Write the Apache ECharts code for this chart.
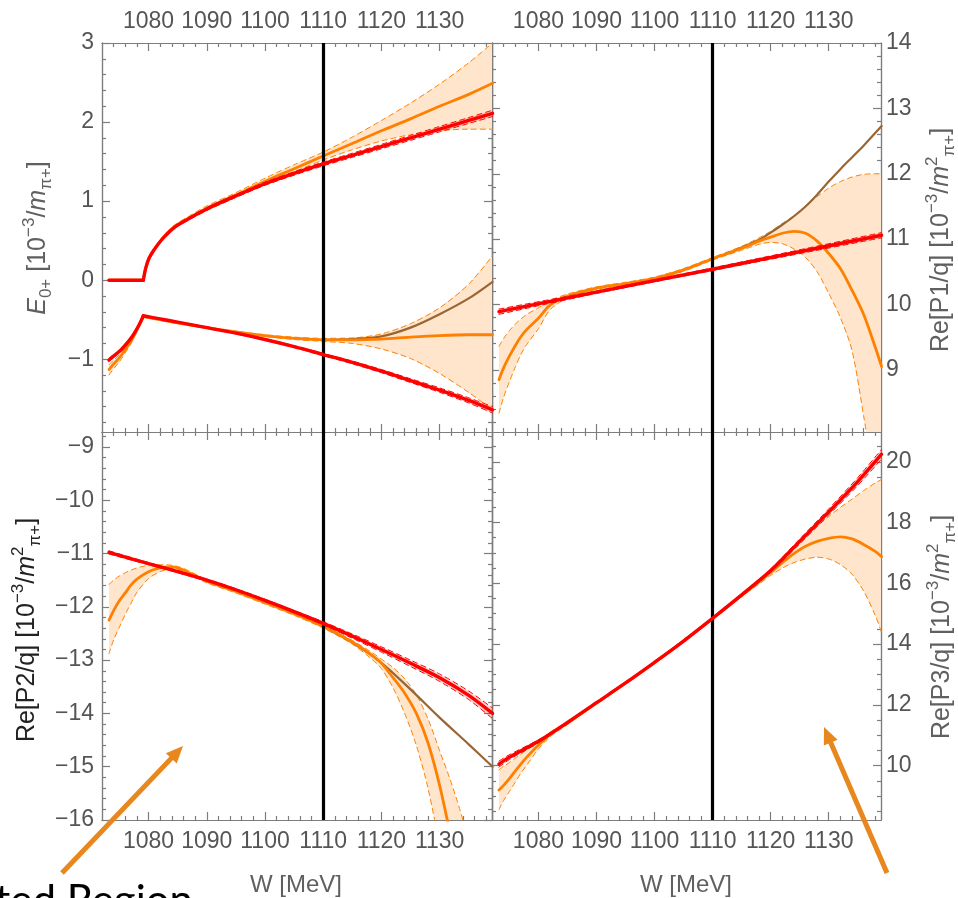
<!DOCTYPE html>
<html>
<head>
<meta charset="utf-8">
<script src="https://cdn.jsdelivr.net/npm/echarts@6/dist/echarts.min.js"></script>
<style>
  html, body { margin: 0; padding: 0; background: #fff; }
  #chart { width: 958px; height: 898px; }
</style>
</head>
<body>
<div id="chart"></div>
<script>
// ---------- axis ticks ----------
const X_RANGE = [1072, 1139];
const X_MAJOR = [1080, 1090, 1100, 1110, 1120, 1130];
const P1_Y_RANGE = [-1.92, 3];
const P1_Y_MAJOR = [-1, 0, 1, 2, 3];
const P2_Y_RANGE = [8.05, 14];
const P2_Y_MAJOR = [9, 10, 11, 12, 13, 14];
const P3_Y_RANGE = [-16, -8.72];
const P3_Y_MAJOR = [-16, -15, -14, -13, -12, -11, -10, -9];
const P4_Y_RANGE = [8.21, 20.98];
const P4_Y_MAJOR = [10, 12, 14, 16, 18, 20];
const MARK_W = 1110;

// ---------- panel 1: E0+ ----------
// below the pi+ n threshold
const P1_W_FLAT = [1073.2, 1079.1];
const P1_FLAT = [0, 0];
const P1_W_LO_PRE = [1073.2, 1074, 1075, 1076, 1077, 1077.8, 1078.4, 1078.8, 1079.1];
const P1_RED_LO_PRE = [-1.01, -0.96, -0.90, -0.82, -0.73, -0.64, -0.56, -0.50, -0.45];
const P1_RED_LO_PRE_ERR = [0.02, 0.02, 0.015, 0.015, 0.01, 0.01, 0.008, 0.005, 0.005];
const P1_ORG_LO_PRE = [-1.13, -1.06, -0.98, -0.88, -0.77, -0.66, -0.57, -0.51, -0.46];
const P1_ORG_LO_PRE_HI = [-1.07, -1.01, -0.94, -0.85, -0.75, -0.65, -0.565, -0.505, -0.455];
const P1_ORG_LO_PRE_LO = [-1.20, -1.12, -1.03, -0.92, -0.80, -0.68, -0.58, -0.515, -0.465];
// above threshold, upper branch
const P1_W_UP = [1079.1, 1079.5, 1080.1, 1081, 1082, 1083, 1084.5, 1086.5, 1090, 1094.5, 1100, 1105, 1110, 1115, 1120, 1125, 1130, 1135, 1139.1];
const P1_RED_UP = [0, 0.15, 0.28, 0.39, 0.49, 0.57, 0.67, 0.76, 0.90, 1.05, 1.22, 1.35, 1.47, 1.58, 1.69, 1.80, 1.91, 2.02, 2.11];
const P1_RED_UP_ERR = [0, 0.004, 0.006, 0.008, 0.009, 0.01, 0.012, 0.014, 0.016, 0.018, 0.02, 0.022, 0.024, 0.026, 0.028, 0.031, 0.034, 0.037, 0.04];
const P1_ORG_UP = [0, 0.15, 0.28, 0.39, 0.49, 0.58, 0.68, 0.77, 0.91, 1.06, 1.25, 1.41, 1.57, 1.73, 1.89, 2.04, 2.20, 2.35, 2.49];
const P1_ORG_UP_HI = [0, 0.16, 0.30, 0.41, 0.51, 0.60, 0.70, 0.79, 0.94, 1.09, 1.29, 1.46, 1.62, 1.81, 2.02, 2.24, 2.48, 2.75, 3.0];
const P1_ORG_UP_LO = [0, 0.14, 0.27, 0.37, 0.47, 0.56, 0.66, 0.75, 0.88, 1.03, 1.21, 1.37, 1.52, 1.65, 1.76, 1.84, 1.89, 1.91, 1.91];
// above threshold, lower branch
const P1_W_LO = [1079.1, 1082, 1085, 1090, 1095, 1100, 1105, 1110, 1115, 1120, 1125, 1130, 1135, 1139.1];
const P1_RED_LO = [-0.45, -0.49, -0.53, -0.60, -0.67, -0.75, -0.84, -0.94, -1.04, -1.15, -1.27, -1.39, -1.52, -1.64];
const P1_RED_LO_ERR = [0.005, 0.005, 0.006, 0.007, 0.008, 0.01, 0.012, 0.014, 0.017, 0.02, 0.024, 0.028, 0.033, 0.04];
const P1_ORG_LO = [-0.46, -0.50, -0.54, -0.60, -0.655, -0.70, -0.735, -0.755, -0.755, -0.745, -0.72, -0.70, -0.69, -0.69];
const P1_ORG_LO_HI = [-0.455, -0.49, -0.53, -0.59, -0.645, -0.69, -0.72, -0.735, -0.73, -0.68, -0.55, -0.35, -0.05, 0.31];
const P1_ORG_LO_LO = [-0.465, -0.51, -0.55, -0.61, -0.665, -0.71, -0.75, -0.775, -0.80, -0.87, -0.99, -1.18, -1.42, -1.64];
const P1_W_BRN = [1110, 1115, 1120, 1125, 1130, 1135, 1139.1];
const P1_BRN = [-0.755, -0.745, -0.71, -0.60, -0.43, -0.23, -0.02];

// ---------- panel 2: Re[P1/q] ----------
const P2_W_RED = [1073.2, 1090, 1110, 1139.1];
const P2_RED = [9.89, 10.19, 10.54, 11.06];
const P2_RED_ERR = [0.04, 0.02, 0.02, 0.04];
const P2_W = [1073.2, 1074, 1075, 1076, 1077, 1078, 1080, 1082, 1085, 1090, 1095, 1100, 1105, 1110, 1115, 1118, 1120, 1122, 1124, 1126, 1128, 1130, 1132, 1134, 1136, 1138, 1139.1];
const P2_ORG = [8.85, 9.03, 9.21, 9.37, 9.51, 9.62, 9.79, 9.99, 10.13, 10.25, 10.32, 10.40, 10.53, 10.70, 10.86, 10.97, 11.03, 11.09, 11.12, 11.09, 10.97, 10.78, 10.55, 10.22, 9.85, 9.35, 9.05];
const P2_ORG_HI = [9.36, 9.48, 9.60, 9.70, 9.78, 9.85, 9.95, 10.06, 10.16, 10.27, 10.34, 10.42, 10.55, 10.72, 10.89, 11.02, 11.12, 11.24, 11.36, 11.50, 11.65, 11.78, 11.88, 11.95, 11.99, 12.0, 12.0];
const P2_ORG_LO = [8.34, 8.58, 8.82, 9.04, 9.24, 9.39, 9.63, 9.92, 10.10, 10.23, 10.30, 10.38, 10.51, 10.68, 10.83, 10.92, 10.95, 10.93, 10.85, 10.72, 10.50, 10.17, 9.80, 9.30, 8.30, 7.20, 6.50];
const P2_W_BRN = [1112, 1115, 1118, 1120, 1122, 1124, 1126, 1128, 1130, 1132, 1134, 1136, 1139.1];
const P2_BRN = [10.76, 10.87, 10.99, 11.10, 11.22, 11.35, 11.50, 11.68, 11.88, 12.07, 12.25, 12.43, 12.73];

// ---------- panel 3: Re[P2/q] ----------
const P3_W_RED = [1073.2, 1080, 1085, 1090, 1095, 1100, 1105, 1110, 1115, 1120, 1125, 1130, 1135, 1139.1];
const P3_RED = [-10.98, -11.19, -11.34, -11.50, -11.68, -11.88, -12.09, -12.31, -12.55, -12.80, -13.06, -13.33, -13.66, -14.0];
const P3_RED_ERR = [0.03, 0.02, 0.02, 0.02, 0.02, 0.02, 0.02, 0.03, 0.04, 0.05, 0.06, 0.07, 0.08, 0.1];
const P3_W = [1073.2, 1074, 1075, 1076, 1077, 1078, 1080, 1082, 1084, 1086, 1090, 1095, 1100, 1105, 1110, 1115, 1118, 1120, 1122, 1124, 1126, 1128, 1130, 1132, 1134, 1136];
const P3_ORG = [-12.25, -12.07, -11.88, -11.74, -11.59, -11.48, -11.34, -11.27, -11.25, -11.31, -11.52, -11.71, -11.92, -12.13, -12.37, -12.66, -12.88, -13.06, -13.33, -13.62, -14.0, -14.55, -15.35, -16.35, -17.4, -18.5];
const P3_ORG_HI = [-11.58, -11.50, -11.42, -11.36, -11.31, -11.27, -11.22, -11.21, -11.22, -11.28, -11.49, -11.69, -11.90, -12.11, -12.35, -12.63, -12.83, -12.98, -13.14, -13.35, -13.65, -14.1, -14.7, -15.3, -16.0, -16.9];
const P3_ORG_LO = [-12.88, -12.62, -12.38, -12.14, -11.93, -11.73, -11.47, -11.34, -11.29, -11.34, -11.55, -11.74, -11.95, -12.16, -12.40, -12.70, -12.95, -13.16, -13.52, -14.0, -14.6, -15.4, -16.5, -17.7, -19.0, -20.5];
const P3_W_BRN = [1110, 1115, 1120, 1125, 1130, 1135, 1139.1];
const P3_BRN = [-12.37, -12.67, -13.05, -13.55, -14.08, -14.58, -15.0];

// ---------- panel 4: Re[P3/q] ----------
const P4_W_RED = [1073.2, 1075, 1080, 1085, 1090, 1095, 1100, 1105, 1110, 1115, 1120, 1125, 1130, 1135, 1139.1];
const P4_RED = [10.05, 10.28, 10.80, 11.42, 12.07, 12.72, 13.40, 14.10, 14.85, 15.62, 16.42, 17.38, 18.35, 19.35, 20.25];
const P4_RED_ERR = [0.1, 0.08, 0.05, 0.03, 0.02, 0.02, 0.02, 0.02, 0.02, 0.03, 0.05, 0.08, 0.1, 0.13, 0.16];
const P4_W = [1073.2, 1074, 1075, 1076, 1077, 1078, 1080, 1082, 1085, 1090, 1100, 1110, 1115, 1118, 1120, 1122, 1124, 1126, 1128, 1130, 1132, 1134, 1136, 1138, 1139.1];
const P4_ORG = [9.20, 9.35, 9.57, 9.82, 10.06, 10.28, 10.68, 11.02, 11.40, 12.06, 13.39, 14.84, 15.60, 16.05, 16.36, 16.68, 16.98, 17.22, 17.38, 17.48, 17.53, 17.46, 17.28, 17.05, 16.88];
const P4_ORG_HI = [9.86, 9.98, 10.10, 10.24, 10.38, 10.52, 10.80, 11.10, 11.45, 12.10, 13.43, 14.88, 15.64, 16.12, 16.45, 16.82, 17.18, 17.55, 17.88, 18.20, 18.50, 18.77, 19.05, 19.30, 19.42];
const P4_ORG_LO = [8.55, 8.85, 9.15, 9.45, 9.76, 10.02, 10.55, 10.95, 11.35, 12.03, 13.37, 14.82, 15.56, 15.98, 16.26, 16.50, 16.68, 16.80, 16.86, 16.80, 16.62, 16.30, 15.75, 14.95, 14.38];

// ---------- styling ----------
const FONT = '"Liberation Sans", Arial, sans-serif';
const FRAME = '#7d7d7d';
const TICK_TEXT = '#555555';
const TITLE_TEXT = '#606060';
const RED = '#ff0000';
const RED_FILL = 'rgba(255,0,0,0.18)';
const ORANGE = '#ff8000';
const ORANGE_FILL = '#ffe5cc';
const BROWN = '#996633';
const ARROW = '#e8871e';

const GRIDS = [
  { left: 102, top: 43, width: 390, height: 389 },
  { left: 492, top: 43, width: 389, height: 389 },
  { left: 102, top: 432, width: 390, height: 388 },
  { left: 492, top: 432, width: 389, height: 388 }
];

function fmtNum(v) { return v < 0 ? '\u2212' + (-v) : String(v); }

function minorList(range, step, majors) {
  const out = [];
  const n0 = Math.ceil(range[0] / step - 1e-9), n1 = Math.floor(range[1] / step + 1e-9);
  for (let n = n0; n <= n1; n++) {
    const v = +(n * step).toFixed(4);
    if (v <= range[0] + 1e-9 || v >= range[1] - 1e-9) continue;
    if (majors.some(m => Math.abs(m - v) < 1e-6)) continue;
    out.push(v);
  }
  return out;
}

// framing axes for one dimension: labelled major, minor, mirrored major, mirrored minor
function axisSet(dim, g, range, labelSide, otherSide, majors, minors) {
  const common = {
    type: 'value', gridIndex: g, min: range[0], max: range[1],
    splitLine: { show: false }, silent: true,
    axisLine: { show: true, onZero: false, lineStyle: { color: FRAME, width: 1.2 } }
  };
  const labelMargin = dim === 'x' ? 10 : (labelSide === 'left' ? 8 : 5);
  const mk = (pos, vals, len, withLabel) => Object.assign({}, common, {
    position: pos,
    axisTick: { show: true, inside: true, length: len, customValues: vals, lineStyle: { color: FRAME, width: 1.2 } },
    axisLabel: withLabel ? {
      show: true, customValues: majors, formatter: fmtNum, color: TICK_TEXT,
      fontSize: 23, fontFamily: FONT, margin: labelMargin
    } : { show: false }
  });
  return [mk(labelSide, majors, 8, true), mk(labelSide, minors, 4, false),
          mk(otherSide, majors, 8, false), mk(otherSide, minors, 4, false)];
}

const PANELS = [
  { yRange: P1_Y_RANGE, yMajor: P1_Y_MAJOR, yStep: 0.2, xSide: 'top', ySide: 'left' },
  { yRange: P2_Y_RANGE, yMajor: P2_Y_MAJOR, yStep: 0.2, xSide: 'top', ySide: 'right' },
  { yRange: P3_Y_RANGE, yMajor: P3_Y_MAJOR, yStep: 0.2, xSide: 'bottom', ySide: 'left' },
  { yRange: P4_Y_RANGE, yMajor: P4_Y_MAJOR, yStep: 0.5, xSide: 'bottom', ySide: 'right' }
];

const xAxes = [], yAxes = [];
PANELS.forEach((p, g) => {
  const xMinor = minorList(X_RANGE, 2, X_MAJOR);
  const yMinor = minorList(p.yRange, p.yStep, p.yMajor);
  xAxes.push(...axisSet('x', g, X_RANGE, p.xSide, p.xSide === 'top' ? 'bottom' : 'top', X_MAJOR, xMinor));
  yAxes.push(...axisSet('y', g, p.yRange, p.ySide, p.ySide === 'left' ? 'right' : 'left', p.yMajor, yMinor));
});

// ---------- series helpers ----------
function pts(ws, vs) { return ws.map((w, i) => [w, vs[i]]); }
function shift(vs, es, s) { return vs.map((v, i) => +(v + s * es[i]).toFixed(4)); }

function curve(g, ws, vs, color, width, z, dashed) {
  return {
    type: 'line', xAxisIndex: 4 * g, yAxisIndex: 4 * g, data: pts(ws, vs),
    showSymbol: false, symbol: 'none', smooth: 0.3,
    clip: true, silent: true, z: z, animation: false,
    lineStyle: { color: color, width: width, type: dashed ? [5, 4] : 'solid', cap: 'round', join: 'round' }
  };
}

function band(g, ws, lo, hi, fill, z) {
  return {
    type: 'custom', xAxisIndex: 4 * g, yAxisIndex: 4 * g, clip: true, silent: true, z: z,
    animation: false, data: [[ws[0], lo[0]]],
    renderItem: function (params, api) {
      const p = [];
      for (let i = 0; i < ws.length; i++) p.push(api.coord([ws[i], hi[i]]));
      for (let i = ws.length - 1; i >= 0; i--) p.push(api.coord([ws[i], lo[i]]));
      return { type: 'polygon', shape: { points: p }, style: { fill: fill } };
    }
  };
}

// fit curve with shaded uncertainty band and dashed band edges
function orangeFamily(g, ws, mid, lo, hi) {
  return [
    band(g, ws, lo, hi, ORANGE_FILL, 1),
    curve(g, ws, lo, ORANGE, 1, 2, true),
    curve(g, ws, hi, ORANGE, 1, 2, true),
    curve(g, ws, mid, ORANGE, 2.8, 4, false)
  ];
}
function redFamily(g, ws, mid, err) {
  const lo = shift(mid, err, -1), hi = shift(mid, err, 1);
  return [
    band(g, ws, lo, hi, RED_FILL, 5),
    curve(g, ws, lo, RED, 1, 6, true),
    curve(g, ws, hi, RED, 1, 6, true),
    curve(g, ws, mid, RED, 3.4, 7, false)
  ];
}
function markerLine(g) {
  return {
    type: 'line', xAxisIndex: 4 * g, yAxisIndex: 4 * g, data: [], z: 10, silent: true,
    markLine: {
      silent: true, symbol: ['none', 'none'], label: { show: false }, animation: false,
      lineStyle: { color: '#000', width: 3.2, type: 'solid' },
      data: [{ xAxis: MARK_W }]
    }
  };
}

const series = [
  // panel 1
  ...orangeFamily(0, P1_W_LO_PRE, P1_ORG_LO_PRE, P1_ORG_LO_PRE_LO, P1_ORG_LO_PRE_HI),
  ...orangeFamily(0, P1_W_LO, P1_ORG_LO, P1_ORG_LO_LO, P1_ORG_LO_HI),
  ...orangeFamily(0, P1_W_UP, P1_ORG_UP, P1_ORG_UP_LO, P1_ORG_UP_HI),
  curve(0, P1_W_FLAT, P1_FLAT, ORANGE, 2.8, 4, false),
  curve(0, P1_W_BRN, P1_BRN, BROWN, 2.2, 3, false),
  ...redFamily(0, P1_W_LO_PRE, P1_RED_LO_PRE, P1_RED_LO_PRE_ERR),
  ...redFamily(0, P1_W_LO, P1_RED_LO, P1_RED_LO_ERR),
  ...redFamily(0, P1_W_UP, P1_RED_UP, P1_RED_UP_ERR),
  curve(0, P1_W_FLAT, P1_FLAT, RED, 3.4, 7, false),
  markerLine(0),
  // panel 2
  ...orangeFamily(1, P2_W, P2_ORG, P2_ORG_LO, P2_ORG_HI),
  curve(1, P2_W_BRN, P2_BRN, BROWN, 2.2, 3, false),
  ...redFamily(1, P2_W_RED, P2_RED, P2_RED_ERR),
  markerLine(1),
  // panel 3
  ...orangeFamily(2, P3_W, P3_ORG, P3_ORG_LO, P3_ORG_HI),
  curve(2, P3_W_BRN, P3_BRN, BROWN, 2.2, 3, false),
  ...redFamily(2, P3_W_RED, P3_RED, P3_RED_ERR),
  markerLine(2),
  // panel 4
  ...orangeFamily(3, P4_W, P4_ORG, P4_ORG_LO, P4_ORG_HI),
  ...redFamily(3, P4_W_RED, P4_RED, P4_RED_ERR),
  markerLine(3)
];

// ---------- annotations ----------
function richStyles(fill) {
  const base = { fontFamily: FONT, fill: fill, color: fill };
  return {
    i: Object.assign({ fontSize: 25, lineHeight: 34, fontStyle: 'italic' }, base),
    sp: Object.assign({ fontSize: 17, lineHeight: 17, verticalAlign: 'top' }, base),
    sb: Object.assign({ fontSize: 17, lineHeight: 17, verticalAlign: 'bottom' }, base)
  };
}
function yTitle(text, x, y, fill) {
  return {
    type: 'text', x: x, y: y, rotation: Math.PI / 2, z: 100, silent: true,
    style: {
      text: text, rich: richStyles(fill), fill: fill, fontSize: 25, fontFamily: FONT, lineHeight: 34,
      align: 'center', verticalAlign: 'middle', textAlign: 'center', textVerticalAlign: 'middle'
    }
  };
}
function plainText(text, x, y, size, fill, family, align) {
  return {
    type: 'text', x: x, y: y, z: 100, silent: true,
    style: {
      text: text, fill: fill, fontSize: size, fontFamily: family,
      align: align, verticalAlign: 'middle', textAlign: align, textVerticalAlign: 'middle'
    }
  };
}
function arrow(tail, tip, color) {
  const dx = tip[0] - tail[0], dy = tip[1] - tail[1];
  const L = Math.hypot(dx, dy), ux = dx / L, uy = dy / L;
  const hl = 17, hw = 7.5;
  const bx = tip[0] - ux * hl, by = tip[1] - uy * hl;
  return [
    { type: 'line', z: 100, silent: true,
      shape: { x1: tail[0], y1: tail[1], x2: bx + ux * 2, y2: by + uy * 2 },
      style: { stroke: color, lineWidth: 5 } },
    { type: 'polygon', z: 100, silent: true,
      shape: { points: [tip, [bx - uy * hw, by + ux * hw], [bx + uy * hw, by - ux * hw]] },
      style: { fill: color } }
  ];
}

const UNIT = ' [10{sp|\u22123}/{i|m}{sp|2}{sb|\u03c0+}]';
const graphic = [
  yTitle('{i|E}{sb|0+} [10{sp|\u22123}/{i|m}{sb|\u03c0+}]', 38, 238, TITLE_TEXT),
  yTitle('Re[P1/q]' + UNIT, 941, 240, TITLE_TEXT),
  yTitle('Re[P2/q]' + UNIT, 27, 630, '#222222'),
  yTitle('Re[P3/q]' + UNIT, 942, 627, TITLE_TEXT),
  plainText('W [MeV]', 296, 885, 24, TITLE_TEXT, FONT, 'center'),
  plainText('W [MeV]', 686, 885, 24, TITLE_TEXT, FONT, 'center'),
  plainText('Extrapolated Region', 193, 901, 42, '#000000', 'Lato, "Open Sans", sans-serif', 'right'),
  ...arrow([62, 873], [183, 746], ARROW),
  ...arrow([887, 873], [824, 727], ARROW)
];

const chart = echarts.init(document.getElementById('chart'), null, { renderer: 'canvas' });
chart.setOption({
  animation: false,
  backgroundColor: '#ffffff',
  grid: GRIDS,
  xAxis: xAxes,
  yAxis: yAxes,
  series: series,
  graphic: graphic
});
</script>
</body>
</html>
